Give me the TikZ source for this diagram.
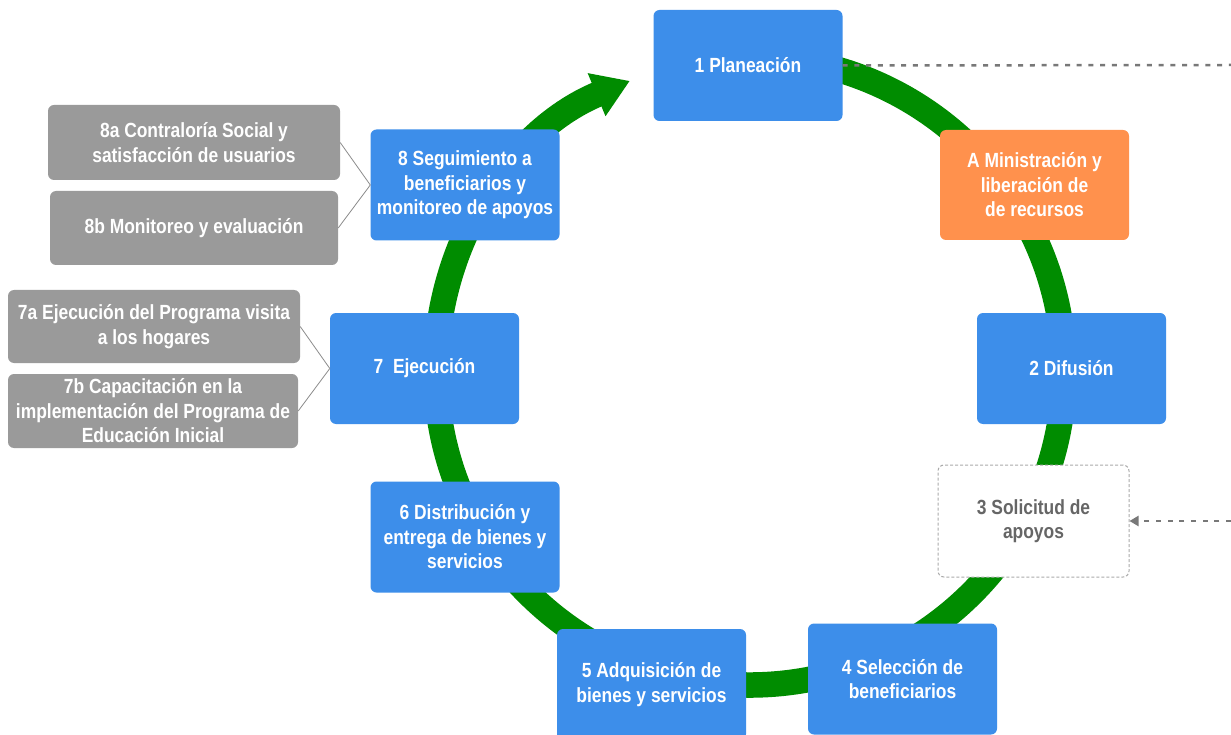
\documentclass[tikz,border=0pt]{standalone}
\usepackage{fontspec}
\setmainfont{Liberation Sans}[FakeStretch=0.85]
\usetikzlibrary{arrows.meta}
\definecolor{boxblue}{RGB}{61,142,234}
\definecolor{boxorange}{RGB}{255,145,77}
\definecolor{boxgray}{RGB}{154,154,154}
\definecolor{ringgreen}{RGB}{0,140,0}
\definecolor{dashgray}{RGB}{120,120,120}
\definecolor{textgray}{RGB}{102,102,102}
\definecolor{bordergray}{RGB}{170,170,170}
\definecolor{linkgray}{RGB}{140,140,140}
\tikzset{
  boxtext/.style={font=\fontsize{20.5}{24.5}\selectfont\bfseries, align=center, inner sep=0pt, rounded corners=6pt},
  bluebox/.style={boxtext, fill=boxblue, text=white, minimum width=189pt, minimum height=111pt},
  orangebox/.style={boxtext, fill=boxorange, text=white, minimum width=189pt, minimum height=110pt},
  graybox/.style={boxtext, fill=boxgray, text=white, minimum width=290pt, minimum height=74pt},
  dashbox/.style={boxtext, fill=white, draw=bordergray, line width=1pt, dash pattern=on 3pt off 2pt, text=textgray, minimum width=191pt, minimum height=112pt},
  ring/.style={draw=ringgreen, line width=25.5pt, -{Triangle[width=44pt,length=36pt]}},
  dotline/.style={draw=dashgray, line width=2.5pt, dash pattern=on 5pt off 6.7pt},
  link/.style={draw=linkgray, line width=0.8pt}
}
\begin{document}
\begin{tikzpicture}[x=1pt,y=1pt]
\useasboundingbox (0,0) rectangle (1231,-735);
\fill[white] (0,0) rectangle (1231,-735);
\coordinate (c) at (750,-371);
% green cycle ring
\draw[ring] (c) ++(95:314) arc[start angle=95, end angle=-247.5, radius=314];
% nodes
\node[bluebox] (n1) at (748,-65.5) {1 Planeación};
\node[orangebox] (nA) at (1034.5,-185) {A Ministración y\\liberación de\\de recursos};
\node[bluebox] (n2) at (1071.5,-368.5) {2 Difusión};
\node[dashbox] (n3) at (1033.5,-521) {3 Solicitud de\\apoyos};
\node[bluebox] (n4) at (902.5,-679) {4 Selección de\\beneficiarios};
\node[bluebox] (n5) at (651.5,-684.5) {5 Adquisición de\\bienes y servicios};
\node[bluebox] (n6) at (465,-537) {6 Distribución y\\entrega de bienes y\\servicios};
\node[bluebox] (n7) at (424.5,-368.5) {7\ \ Ejecución};
\node[bluebox] (n8) at (465,-185) {8 Seguimiento a\\beneficiarios y\\monitoreo de apoyos};
\node[graybox, minimum width=292pt, minimum height=75pt] (n8a) at (194,-142.5) {8a Contraloría Social y\\satisfacción de usuarios};
\node[graybox, minimum width=288pt] (n8b) at (194,-228) {8b Monitoreo y evaluación};
\node[graybox, minimum width=292pt, minimum height=73pt] (n7a) at (154,-326.5) {7a Ejecución del Programa visita\\a los hogares};
\node[graybox] (n7b) at (153,-411) {7b Capacitación en la\\implementación del Programa de\\Educación Inicial};
% connectors
\draw[link] (n8a.east) -- (n8.west);
\draw[link] (n8b.east) -- (n8.west);
\draw[link] (n7a.east) -- (n7.west);
\draw[link] (n7b.east) -- (n7.west);
\coordinate (e1) at (1231,-65);
\coordinate (e3) at (1231,-521);
\draw[dotline] (n1.east) -- (e1);
\draw[dotline, -{Triangle[width=10pt,length=9pt]}] (e3) -- (n3.east);
\end{tikzpicture}
\end{document}
